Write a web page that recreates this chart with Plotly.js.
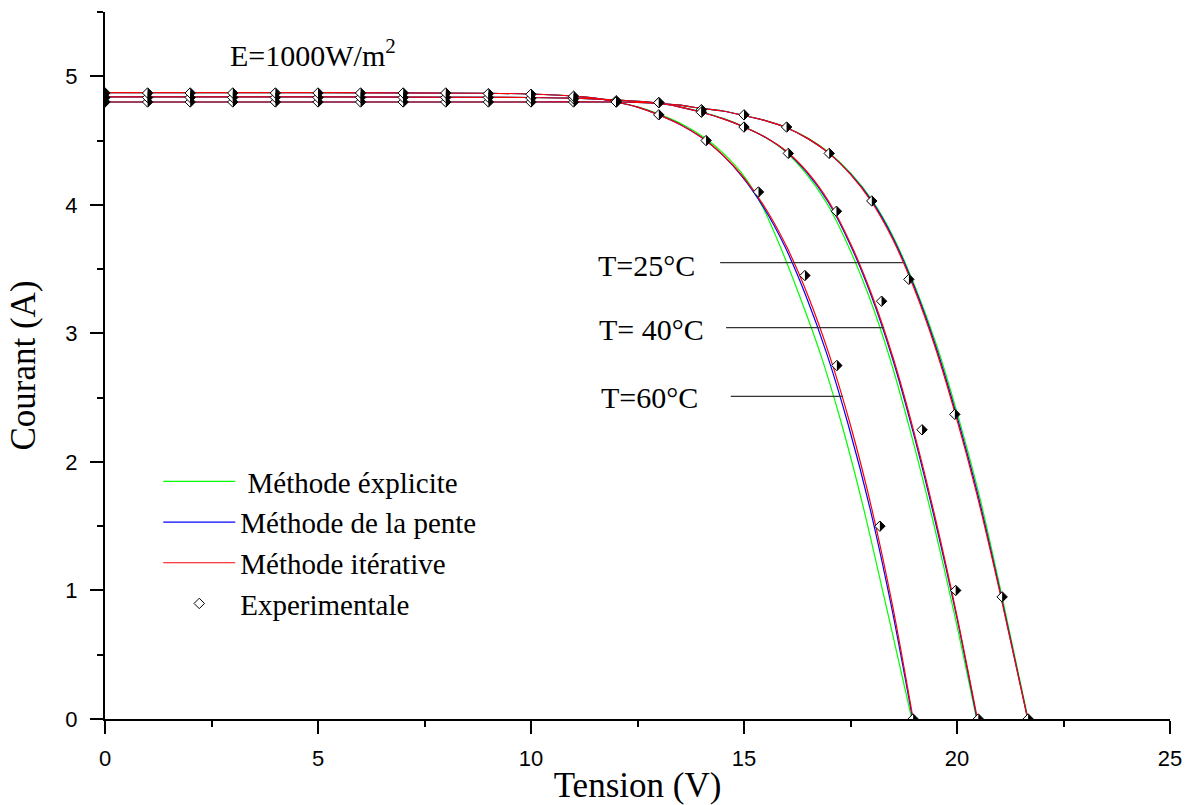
<!DOCTYPE html>
<html><head><meta charset="utf-8">
<script src="https://cdn.plot.ly/plotly-3.0.1.min.js"></script>
<style>html,body{margin:0;padding:0;background:#fff}</style>
</head><body><div id="chart" style="width:1192px;height:805px"></div>
<script>
// ---- legend / method names and colours ----
const methodNames = ['\u00a0Méthode éxplicite', 'Méthode de la pente', 'Méthode itérative'];
const methodColors = ['#00ff00', '#0000ff', '#ff0000'];
const expName = 'Experimentale';

// ---- T = 25 °C curves ----
const i25 = [4.80, 4.80, 4.80, 4.80, 4.797, 4.79, 4.775, 4.75, 4.73, 4.695, 4.655, 4.60, 4.515, 4.40, 4.24, 4.03, 3.74, 3.36, 2.90, 2.35, 1.73, 1.01, 0];
const v25Explicit = [0, 5, 10, 12, 12.5, 13, 13.5, 14, 14.51, 15.01, 15.51, 16.01, 16.52, 17.02, 17.52, 18.02, 18.52, 19.02, 19.53, 20.03, 20.53, 21.02, 21.67];
const v25Pente    = [0, 5, 10, 12, 12.5, 13, 13.5, 14, 14.5, 15, 15.5, 16, 16.5, 17, 17.5, 18, 18.5, 19, 19.5, 20, 20.5, 21, 21.66];
const v25Iter     = [0, 5, 10, 12, 12.5, 13, 13.5, 14, 14.5, 15, 15.5, 16, 16.5, 17, 17.49, 17.98, 18.48, 18.98, 19.48, 19.98, 20.48, 20.99, 21.66];

// ---- T = 40 °C curves ----
const i40 = [4.84, 4.84, 4.835, 4.83, 4.815, 4.805, 4.79, 4.76, 4.72, 4.67, 4.605, 4.525, 4.415, 4.25, 4.02, 3.70, 3.30, 2.81, 2.22, 1.55, 0.80, 0];
const v40Explicit = [0, 5, 10, 11, 12, 12.5, 13.01, 13.52, 14.03, 14.53, 15.02, 15.5, 15.97, 16.44, 16.93, 17.42, 17.92, 18.42, 18.92, 19.43, 19.95, 20.46];
const v40Pente    = [0, 5, 10, 11, 12, 12.5, 13, 13.5, 14, 14.5, 15, 15.5, 15.99, 16.48, 16.98, 17.48, 17.98, 18.48, 18.98, 19.48, 19.99, 20.47];
const v40Iter     = [0, 5, 10, 11, 12, 12.5, 13, 13.5, 14, 14.5, 15, 15.5, 16, 16.5, 17, 17.5, 18, 18.5, 19, 19.5, 20, 20.48];

// ---- T = 60 °C curves ----
const i60 = [4.873, 4.873, 4.868, 4.862, 4.846, 4.83, 4.80, 4.76, 4.70, 4.625, 4.525, 4.39, 4.21, 3.975, 3.675, 3.295, 2.835, 2.285, 1.635, 0.86, 0];
const v60Explicit = [0, 5, 9, 10, 11, 11.51, 12.02, 12.53, 13.05, 13.56, 14.06, 14.55, 15.03, 15.45, 15.85, 16.3, 16.8, 17.3, 17.81, 18.35, 18.94];
const v60Pente    = [0, 5, 9, 10, 11, 11.5, 12, 12.5, 13, 13.5, 14, 14.49, 14.98, 15.47, 15.96, 16.45, 16.95, 17.45, 17.96, 18.47, 18.96];
const v60Iter     = [0, 5, 9, 10, 11, 11.5, 12, 12.5, 13, 13.5, 14, 14.5, 15, 15.5, 16, 16.5, 17, 17.5, 18, 18.5, 18.97];

// ---- experimental points ----
const expV25 = [0,1,2,3,4,5,6,7,8,9,10,11,12,13,14,15,16,17,18,18.87,19.95,21.06,21.67];
const expI25 = [4.80,4.80,4.80,4.80,4.80,4.80,4.80,4.80,4.80,4.80,4.80,4.80,4.80,4.795,4.74,4.70,4.605,4.40,4.03,3.42,2.37,0.95,0];
const expV40 = [0,1,2,3,4,5,6,7,8,9,10,11,12,13,14,15,16.04,17.17,18.23,19.18,19.97,20.5];
const expI40 = [4.835,4.835,4.835,4.835,4.835,4.835,4.835,4.835,4.835,4.835,4.83,4.825,4.81,4.795,4.72,4.605,4.40,3.95,3.25,2.25,1.00,0];
const expV60 = [0,1,2,3,4,5,6,7,8,9,10,11,12,13,14.11,15.34,16.43,17.18,18.19,18.97];
const expI60 = [4.87,4.87,4.87,4.87,4.87,4.87,4.87,4.87,4.87,4.865,4.86,4.845,4.80,4.70,4.50,4.10,3.45,2.75,1.50,0];

// ---- temperature labels and their leader lines ----
const tempLabels = ['T=25°C', 'T= 40°C', 'T=60°C'];
const tempLabelV = [12.72, 12.84, 12.79];
const tempLabelI = [3.53, 3.03, 2.50];
const leaderStartV = [14.44, 14.58, 14.69];
const leaderEndV = [18.73, 18.29, 17.32];
const leaderI = [3.55, 3.045, 2.51];

const curveV = [
  [v25Explicit, v40Explicit, v60Explicit],
  [v25Pente, v40Pente, v60Pente],
  [v25Iter, v40Iter, v60Iter]
];
const curveI = [i25, i40, i60];

const traces = [];
for (let m = 0; m < 3; m++) {
  for (let t = 0; t < 3; t++) {
    traces.push({
      type: 'scatter', mode: 'lines',
      x: curveV[m][t], y: curveI[t],
      name: methodNames[m], legendgroup: 'm' + m, showlegend: t === 0,
      line: {color: methodColors[m], width: 1.2, shape: 'spline', smoothing: 0.8},
      hoverinfo: 'skip'
    });
  }
}
const expV = [expV25, expV40, expV60];
const expI = [expI25, expI40, expI60];
for (let t = 0; t < 3; t++) {
  traces.push({
    type: 'scatter', mode: 'markers', x: expV[t], y: expI[t],
    name: expName, legendgroup: 'exp', showlegend: t === 0,
    marker: {symbol: 'diamond', size: 8, color: '#ffffff', line: {color: '#000', width: 1}},
    hoverinfo: 'skip'
  });
}
// black right half of each diamond
for (let t = 0; t < 3; t++) {
  traces.push({
    type: 'scatter', mode: 'markers', x: expV[t], y: expI[t], xaxis: 'x2',
    showlegend: false,
    marker: {symbol: 'triangle-ne', angle: 45, size: 8.2, color: '#000', line: {width: 0}},
    hoverinfo: 'skip'
  });
}

const serif = 'Liberation Serif, Times New Roman, serif';
const sans = 'Liberation Sans, Arial, sans-serif';

const annotations = tempLabels.map((txt, k) => ({
  x: tempLabelV[k], y: tempLabelI[k], xref: 'x', yref: 'y', text: txt, showarrow: false,
  xanchor: 'center', yanchor: 'middle', font: {family: serif, size: 30, color: '#000'}
}));
annotations.push({
  x: 2.89, y: 5.18, xref: 'x', yref: 'y', text: 'E=1000W/m<sup>2</sup>', showarrow: false,
  xanchor: 'left', yanchor: 'middle', font: {family: serif, size: 30, color: '#000'}
});

const shapes = tempLabels.map((txt, k) => ({
  type: 'line', xref: 'x', yref: 'y', x0: leaderStartV[k], x1: leaderEndV[k], y0: leaderI[k], y1: leaderI[k],
  line: {color: '#333', width: 1.3}
}));

const layout = {
  width: 1192, height: 805,
  margin: {l: 105, r: 22, t: 12, b: 86},
  paper_bgcolor: '#fff', plot_bgcolor: '#fff',
  showlegend: true,
  legend: {x: 0.050, y: 0.372, xanchor: 'left', yanchor: 'top', bgcolor: 'rgba(0,0,0,0)', borderwidth: 0,
           font: {family: serif, size: 29, color: '#000'}, itemwidth: 72, tracegroupgap: 0, traceorder: 'normal'},
  xaxis: {range: [0, 25], dtick: 5, tick0: 0, ticks: 'outside', ticklen: 13, tickwidth: 2, tickcolor: '#000',
          showline: true, linecolor: '#000', linewidth: 2, showgrid: false, zeroline: false,
          tickfont: {family: sans, size: 22, color: '#000'}, ticklabelstandoff: 6,
          minor: {dtick: 2.5, ticks: 'outside', ticklen: 6, tickwidth: 2, tickcolor: '#000', showgrid: false},
          title: {text: 'Tension (V)', font: {family: serif, size: 35, color: '#000'}, standoff: 4}},
  xaxis2: {range: [-0.0406, 24.9594], overlaying: 'x', anchor: 'y', visible: false},
  yaxis: {range: [0, 5.5], dtick: 1, tick0: 0, ticks: 'outside', ticklen: 13, tickwidth: 2, tickcolor: '#000',
          showline: true, linecolor: '#000', linewidth: 2, showgrid: false, zeroline: false,
          tickfont: {family: sans, size: 22, color: '#000'}, ticklabelstandoff: 8,
          minor: {dtick: 0.5, ticks: 'outside', ticklen: 6, tickwidth: 2, tickcolor: '#000', showgrid: false},
          title: {text: 'Courant (A)', font: {family: serif, size: 35, color: '#000'}, standoff: 19}},
  annotations: annotations,
  shapes: shapes
};

Plotly.newPlot('chart', traces, layout, {displayModeBar: false, staticPlot: true});
</script></body></html>
